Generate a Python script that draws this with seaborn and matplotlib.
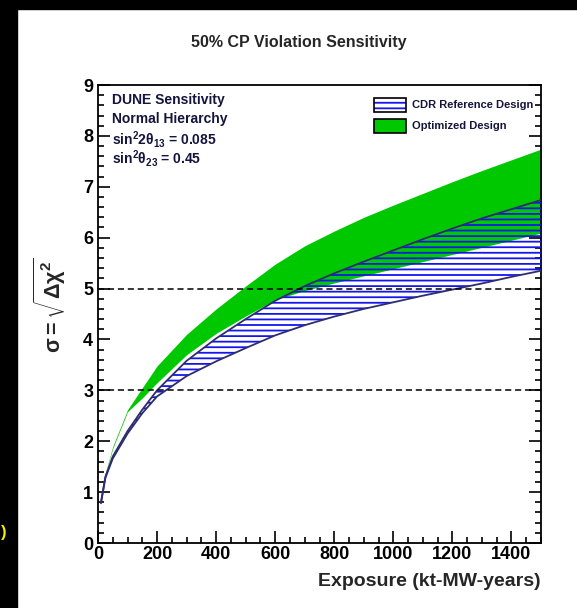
import numpy as np
import pandas as pd
import seaborn as sns
import matplotlib.pyplot as plt
from matplotlib.patches import Patch, Rectangle
from matplotlib.legend_handler import HandlerTuple
from matplotlib.ticker import MultipleLocator

# values
exposure = [10, 25, 50, 100, 150, 200, 300, 400, 500, 600, 700, 800, 900, 1000, 1100, 1200, 1300, 1400, 1500]
opt_hi = [0.85, 1.38, 1.90, 2.62, 3.05, 3.48, 4.10, 4.60, 5.05, 5.48, 5.84, 6.13, 6.40, 6.64, 6.87, 7.10, 7.32, 7.53, 7.74]
opt_lo = [0.85, 1.36, 1.86, 2.58, 2.85, 3.15, 3.70, 4.12, 4.46, 4.78, 4.96, 5.11, 5.25, 5.39, 5.53, 5.67, 5.81, 5.95, 6.09]
cdr_hi = [0.80, 1.30, 1.70, 2.20, 2.62, 3.00, 3.58, 4.02, 4.40, 4.76, 5.05, 5.30, 5.53, 5.75, 5.97, 6.18, 6.38, 6.56, 6.74]
cdr_lo = [0.78, 1.28, 1.66, 2.15, 2.55, 2.88, 3.28, 3.57, 3.83, 4.08, 4.28, 4.45, 4.60, 4.73, 4.86, 4.98, 5.10, 5.23, 5.35]
ref_levels = [3, 5]

df = pd.DataFrame({'exposure': exposure, 'opt_hi': opt_hi, 'opt_lo': opt_lo,
                   'cdr_hi': cdr_hi, 'cdr_lo': cdr_lo})

sns.set_style('ticks')
plt.rcParams['font.family'] = ['Liberation Sans', 'DejaVu Sans']
plt.rcParams['mathtext.fontset'] = 'custom'
plt.rcParams['mathtext.rm'] = 'Liberation Sans:bold'
plt.rcParams['mathtext.it'] = 'Liberation Sans:bold'
plt.rcParams['mathtext.bf'] = 'Liberation Sans:bold'
plt.rcParams['mathtext.default'] = 'rm'
plt.rcParams['hatch.color'] = '#1515ee'
plt.rcParams['hatch.linewidth'] = 1.3

fig = plt.figure(figsize=(5.77, 6.08), dpi=100)
ax = fig.add_axes([98/577, 1-543/608, 443/577, 458/608])

# black slide border left and top
fig.add_artist(Rectangle((0, 0), 17/577, 1, transform=fig.transFigure, color='black', zorder=-5))
fig.add_artist(Rectangle((0, 1-9/608), 1, 9/608, transform=fig.transFigure, color='black', zorder=-5))
fig.text(1/577, 1-532/608, ')', color='#f0f000', fontsize=12, fontweight='bold', va='center')

green = '#00c800'
navy = '#2e2e6e'

ax.fill_between(df['exposure'], df['opt_lo'], df['opt_hi'], color=green, lw=0, zorder=2)
ax.fill_between(df['exposure'], df['cdr_lo'], df['cdr_hi'], facecolor='none',
                edgecolor='#1515ee', hatch='---', lw=0, zorder=3)
sns.lineplot(data=df, x='exposure', y='cdr_hi', color=navy, lw=1.3, ax=ax, zorder=4)
sns.lineplot(data=df, x='exposure', y='cdr_lo', color=navy, lw=1.3, ax=ax, zorder=4)

for lev in ref_levels:
    ax.axhline(lev, color='black', ls=(0, (4, 2.5)), lw=1.1, zorder=5)

ax.set_xlim(0, 1500)
ax.set_ylim(0, 9)
ax.xaxis.set_major_locator(MultipleLocator(200))
ax.xaxis.set_minor_locator(MultipleLocator(50))
ax.yaxis.set_major_locator(MultipleLocator(1))
ax.yaxis.set_minor_locator(MultipleLocator(0.2))
ax.tick_params(which='both', direction='in', right=True, top=False, width=1.2, colors='black')
ax.tick_params(which='major', length=8.5, labelsize=13, pad=2)
ax.tick_params(axis='y', which='major', pad=3.5)
ax.tick_params(which='minor', length=4.3)
for lab in ax.get_xticklabels() + ax.get_yticklabels():
    lab.set_fontweight('bold')
for sp in ax.spines.values():
    sp.set_linewidth(1.3)
    sp.set_color('black')

ax.set_xlabel('Exposure (kt-MW-years)', fontsize=14, fontweight='bold', ha='right', x=1.0)
ax.set_ylabel(r'$\sigma = \sqrt{\Delta\chi^{2}}$', fontsize=15.5)
ax.yaxis.set_label_coords(-0.068, 0.52)
ax.xaxis.set_label_coords(1.0, -0.065)

fig.text(299/577, 1-42/608, '50% CP Violation Sensitivity', ha='center', va='center',
         fontsize=11.5, fontweight='bold')

txt_col = '#14143c'
info = ['DUNE Sensitivity', 'Normal Hierarchy',
        r'sin$^{2}$2$\theta_{13}$ = 0.085', r'sin$^{2}\theta_{23}$ = 0.45']
info_y = [100, 119, 139, 158]
for s, yy in zip(info, info_y):
    ax.text((112-98)/443, (543-yy)/458, s, transform=ax.transAxes, fontsize=10,
            fontweight='bold', color=txt_col, va='center', ha='left')

h_cdr = (Patch(facecolor='white', edgecolor='#1515ee', hatch='---', lw=0),
         Patch(facecolor='none', edgecolor='black', lw=1.2))
h_opt = Patch(facecolor=green, edgecolor='black', lw=1.2)
leg = ax.legend([h_cdr, h_opt], ['CDR Reference Design', 'Optimized Design'],
                handler_map={tuple: HandlerTuple(ndivide=1, pad=0)},
                loc='upper left', bbox_to_anchor=((368-98)/443, (543-92)/458),
                frameon=False, borderpad=0, handlelength=2.9, handleheight=1.6,
                handletextpad=0.55, labelspacing=0.6, prop={'size': 8, 'weight': 'bold'})
for t in leg.get_texts():
    t.set_color(txt_col)

fig.savefig('out.png', dpi=100)
